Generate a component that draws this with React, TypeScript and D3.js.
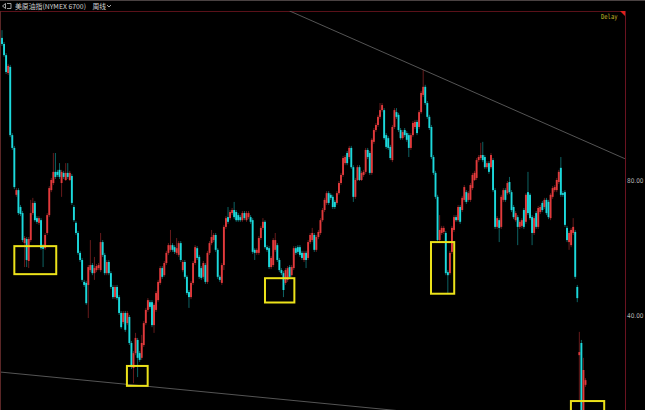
import React from "react";
import * as d3 from "d3";

// Weekly OHLC of the crude oil index (price units)
const opens = [
  122.4, 120.6, 117.3, 112.0, 113.8, 93.6, 89.8, 75.9, 77.3, 72.3,
  70.5, 61.6, 62.8, 56.3, 62.5, 70.5, 73.5, 69.0, 67.6, 68.4,
  60.7, 60.1, 64.6, 69.9, 77.3, 79.4, 82.7, 82.7, 83.3, 79.4,
  82.4, 80.3, 82.4, 80.3, 81.5, 72.3, 67.6, 64.6, 58.7, 56.6,
  50.1, 49.8, 49.2, 53.6, 55.1, 52.7, 53.6, 54.2, 53.6, 61.9,
  58.1, 52.7, 56.0, 52.7, 48.6, 45.6, 48.6, 45.6, 40.9, 38.2,
  40.9, 37.9, 39.7, 32.0, 24.6, 29.0, 32.9, 29.0, 27.6, 31.4,
  37.9, 41.8, 44.1, 44.1, 37.3, 41.8, 44.7, 49.8, 54.2, 52.1,
  55.7, 58.7, 59.6, 61.0, 60.4, 58.7, 58.1, 61.6, 53.6, 56.0,
  51.6, 47.1, 45.6, 49.8, 55.7, 60.1, 57.5, 54.2, 51.6, 55.1,
  50.1, 58.7, 61.6, 62.5, 64.0, 59.6, 51.6, 49.8, 55.1, 66.4,
  69.3, 69.0, 70.5, 71.4, 70.8, 69.9, 69.3, 68.4, 70.5, 68.4,
  69.3, 69.3, 68.4, 59.6, 58.7, 58.7, 63.1, 66.1, 67.9, 60.4,
  60.1, 54.5, 55.1, 59.6, 61.0, 56.6, 53.6, 52.7, 49.8, 50.7,
  54.5, 52.1, 54.2, 60.1, 60.4, 60.4, 58.7, 56.6, 58.7, 57.2,
  61.9, 62.5, 64.0, 59.6, 63.4, 64.6, 68.4, 71.4, 73.5, 76.4,
  75.9, 75.3, 73.8, 73.5, 76.4, 79.4, 81.8, 85.3, 88.3, 87.1,
  89.8, 84.1, 75.3, 80.3, 84.1, 80.3, 81.8, 82.7, 89.2, 88.3,
  82.4, 91.6, 95.1, 96.6, 99.0, 101.0, 101.0, 93.6, 92.7, 90.1,
  86.2, 96.0, 100.4, 99.6, 95.1, 92.7, 95.1, 94.2, 93.6, 89.8,
  93.6, 96.0, 97.5, 96.0, 100.4, 105.5, 107.9, 103.1, 99.0, 96.0,
  87.1, 82.4, 75.3, 62.5, 64.6, 64.9, 64.6, 53.0, 52.7, 59.0,
  65.5, 69.3, 68.4, 72.3, 71.4, 74.4, 76.7, 74.4, 74.4, 77.9,
  80.3, 80.9, 86.2, 86.8, 87.7, 87.1, 84.1, 85.3, 84.1, 86.2,
  77.3, 66.4, 68.4, 66.4, 74.4, 77.3, 76.4, 79.7, 76.7, 72.3,
  68.4, 69.3, 66.4, 66.7, 71.4, 67.9, 76.7, 75.9, 69.3, 64.6,
  70.5, 66.4, 70.8, 73.5, 72.3, 74.4, 73.8, 69.0, 75.3, 77.3,
  77.3, 79.7, 83.9, 76.4, 76.7, 66.1, 61.9, 61.0, 64.6, 64.9,
  48.6, 28.4, 32.0, 9.2, 19.6,
];

const closes = [
  120.6, 117.3, 112.3, 114.1, 93.6, 89.8, 78.2, 77.3, 70.5, 70.2,
  62.5, 63.1, 56.6, 62.8, 70.5, 73.5, 68.4, 67.9, 69.0, 60.1,
  59.9, 64.0, 69.9, 77.9, 80.3, 82.7, 81.2, 81.8, 81.2, 82.7,
  81.2, 82.4, 81.2, 82.4, 73.5, 68.4, 64.6, 58.7, 56.6, 50.7,
  49.2, 43.8, 54.5, 55.1, 52.7, 54.2, 54.8, 55.1, 61.9, 58.1,
  52.7, 56.0, 52.7, 48.6, 45.6, 48.6, 45.3, 40.9, 36.7, 40.9,
  35.9, 40.9, 32.0, 24.9, 29.0, 33.5, 27.6, 27.0, 32.0, 37.9,
  41.8, 44.7, 42.7, 37.3, 43.3, 46.8, 50.1, 54.2, 51.6, 55.7,
  58.7, 61.0, 61.0, 59.6, 59.0, 60.1, 61.6, 56.6, 56.0, 51.6,
  46.8, 45.6, 49.8, 55.7, 60.4, 57.2, 51.6, 51.3, 55.7, 50.1,
  58.7, 61.6, 63.4, 64.0, 59.6, 51.6, 50.7, 55.1, 66.4, 69.0,
  67.9, 70.8, 71.4, 69.3, 68.4, 68.4, 68.4, 70.5, 69.0, 70.5,
  70.5, 67.9, 59.0, 58.7, 59.6, 63.1, 66.1, 67.9, 60.4, 59.6,
  54.5, 57.2, 62.5, 62.5, 56.6, 53.6, 52.7, 47.7, 53.6, 54.2,
  51.6, 54.5, 60.1, 58.7, 59.0, 58.1, 57.2, 58.7, 56.6, 61.9,
  64.0, 64.6, 59.6, 63.4, 64.9, 68.4, 71.4, 74.4, 76.4, 73.5,
  75.0, 72.3, 72.3, 76.4, 79.4, 81.8, 86.8, 87.1, 85.3, 89.8,
  84.1, 75.3, 80.3, 84.1, 80.3, 82.4, 82.7, 89.2, 87.1, 82.4,
  92.2, 95.1, 96.6, 99.0, 101.0, 102.5, 92.7, 90.1, 89.8, 86.8,
  96.0, 101.0, 99.0, 95.1, 92.7, 94.5, 93.6, 92.2, 89.8, 93.6,
  97.2, 97.5, 94.2, 100.4, 106.1, 107.9, 103.1, 99.0, 95.7, 87.1,
  82.4, 75.3, 62.5, 65.5, 66.1, 66.1, 52.7, 52.1, 58.7, 66.1,
  69.3, 68.4, 72.3, 67.9, 75.0, 78.2, 73.8, 76.4, 78.8, 81.8,
  82.4, 86.2, 87.1, 87.7, 86.2, 84.1, 85.3, 82.7, 87.7, 77.3,
  66.4, 69.0, 66.1, 75.3, 77.3, 74.4, 79.4, 76.7, 71.4, 69.3,
  70.5, 66.4, 67.9, 68.4, 66.4, 75.9, 70.5, 69.0, 64.6, 69.0,
  66.4, 72.0, 72.3, 71.4, 74.4, 70.5, 69.3, 75.9, 77.9, 78.2,
  80.3, 82.7, 75.9, 75.9, 67.0, 62.5, 64.6, 65.5, 66.4, 51.6,
  45.3, 29.3, 9.2, 24.0, 21.0,
];

const highs = [
  124.7, 121.2, 117.9, 114.7, 114.4, 94.2, 90.4, 77.9, 77.9, 72.9,
  71.1, 63.7, 63.4, 63.4, 74.4, 75.0, 74.1, 69.6, 69.6, 69.0,
  61.3, 64.6, 70.5, 78.5, 80.9, 88.3, 88.3, 83.3, 85.3, 83.3,
  83.0, 85.3, 85.3, 83.0, 82.1, 72.9, 68.1, 65.2, 59.3, 57.2,
  50.7, 50.4, 55.1, 62.5, 55.7, 57.5, 55.4, 55.7, 64.6, 62.5,
  58.7, 56.6, 56.6, 53.3, 49.2, 49.2, 49.2, 46.2, 41.5, 41.5,
  41.5, 41.5, 40.3, 32.6, 29.6, 35.0, 33.5, 29.6, 34.4, 38.5,
  42.4, 45.3, 44.7, 44.7, 43.8, 47.4, 50.7, 54.8, 54.8, 56.3,
  59.3, 61.6, 65.5, 61.6, 61.0, 63.1, 62.2, 62.2, 56.6, 56.6,
  52.1, 47.7, 50.4, 56.3, 61.0, 60.7, 58.1, 54.8, 56.3, 55.7,
  59.3, 62.2, 65.5, 64.6, 64.6, 60.1, 52.1, 55.7, 67.0, 69.6,
  72.3, 71.4, 72.0, 73.8, 71.4, 70.5, 69.9, 71.1, 71.1, 71.1,
  71.1, 69.9, 69.0, 60.1, 60.1, 63.7, 66.7, 69.0, 68.4, 61.0,
  60.7, 57.8, 63.1, 64.6, 61.6, 57.2, 54.2, 53.3, 54.2, 54.8,
  55.1, 55.1, 60.7, 60.7, 61.0, 61.0, 59.3, 59.3, 59.3, 62.5,
  64.6, 66.1, 64.6, 64.0, 65.5, 69.0, 72.0, 75.0, 77.0, 77.0,
  76.4, 75.9, 74.4, 77.0, 80.0, 82.4, 87.4, 87.7, 88.9, 90.4,
  90.4, 84.7, 80.9, 84.7, 84.7, 83.0, 83.3, 89.8, 89.8, 88.9,
  92.7, 95.7, 97.2, 99.6, 103.1, 103.1, 101.6, 94.2, 93.3, 90.7,
  96.6, 101.6, 101.6, 100.2, 95.7, 95.1, 95.7, 94.8, 94.2, 94.2,
  97.8, 98.1, 98.1, 101.0, 106.7, 112.9, 108.5, 103.7, 99.6, 96.6,
  87.7, 83.0, 75.9, 69.9, 66.7, 66.7, 65.2, 53.6, 59.3, 66.7,
  69.9, 69.9, 72.9, 72.9, 75.6, 78.8, 77.3, 77.0, 79.4, 82.4,
  83.0, 86.8, 87.7, 91.3, 91.6, 87.7, 85.9, 85.9, 88.3, 86.8,
  77.9, 69.6, 69.0, 75.9, 77.9, 77.9, 80.0, 81.2, 77.3, 72.9,
  71.1, 69.9, 68.4, 69.0, 72.0, 76.4, 82.7, 76.4, 69.9, 69.6,
  71.1, 72.6, 72.9, 74.1, 75.0, 75.0, 74.4, 76.4, 78.5, 78.8,
  80.9, 83.3, 87.1, 77.0, 77.3, 66.7, 65.2, 66.1, 69.0, 65.5,
  49.2, 35.3, 32.9, 27.6, 21.6,
];

const lows = [
  120.0, 116.8, 111.7, 111.4, 93.0, 89.2, 77.6, 75.3, 69.9, 69.6,
  61.9, 54.5, 54.5, 54.2, 61.9, 69.9, 67.9, 67.3, 67.0, 59.6,
  54.5, 59.6, 64.0, 69.3, 76.7, 78.8, 80.6, 81.2, 80.6, 75.3,
  80.6, 80.0, 80.6, 80.0, 72.9, 67.9, 64.0, 58.1, 56.0, 50.1,
  48.6, 43.3, 39.4, 53.0, 52.1, 50.7, 53.0, 53.6, 53.0, 57.5,
  52.1, 52.1, 52.1, 48.0, 45.0, 45.0, 44.7, 40.3, 36.2, 37.6,
  35.3, 37.3, 31.4, 24.3, 20.1, 28.4, 21.9, 26.4, 27.0, 30.8,
  37.3, 41.2, 42.1, 36.7, 35.0, 41.2, 44.1, 49.2, 51.0, 51.6,
  55.1, 58.1, 59.0, 59.0, 58.4, 58.1, 57.5, 56.0, 53.0, 51.0,
  46.2, 42.4, 45.0, 49.2, 55.1, 56.6, 51.0, 50.7, 51.0, 49.5,
  49.5, 58.1, 61.0, 61.9, 59.0, 51.0, 50.1, 49.2, 53.6, 65.8,
  67.3, 68.4, 69.9, 68.7, 67.9, 67.9, 67.9, 67.9, 68.4, 67.9,
  68.7, 67.3, 58.4, 56.6, 58.1, 58.1, 62.5, 65.5, 59.9, 59.0,
  53.9, 53.9, 54.5, 59.0, 56.0, 53.0, 52.1, 45.6, 49.2, 50.1,
  51.0, 51.6, 53.6, 58.1, 58.4, 57.5, 56.6, 56.0, 54.2, 56.6,
  61.3, 61.9, 59.0, 59.0, 62.8, 64.0, 67.9, 70.8, 72.9, 72.9,
  74.4, 71.7, 71.7, 72.9, 75.9, 78.8, 81.2, 84.7, 84.7, 86.5,
  83.6, 73.8, 74.7, 80.0, 80.0, 80.0, 81.2, 82.1, 86.5, 81.8,
  81.8, 91.0, 94.5, 96.0, 98.4, 100.4, 92.2, 89.5, 89.2, 86.2,
  85.6, 95.4, 98.4, 94.5, 92.2, 92.2, 93.0, 91.6, 87.1, 89.2,
  93.0, 95.4, 93.6, 95.4, 99.9, 104.9, 102.5, 98.4, 95.1, 86.5,
  81.8, 74.7, 61.9, 61.9, 64.0, 64.3, 52.1, 46.8, 52.1, 58.4,
  64.9, 67.9, 67.9, 67.3, 70.8, 73.8, 73.2, 73.8, 73.8, 77.3,
  80.0, 80.3, 85.6, 86.2, 85.6, 83.6, 83.6, 82.1, 83.6, 76.7,
  65.8, 65.8, 61.9, 65.8, 73.8, 73.8, 75.9, 76.1, 70.8, 68.7,
  67.9, 61.0, 65.8, 66.1, 65.8, 67.3, 69.9, 68.4, 61.0, 64.0,
  65.8, 65.8, 70.2, 70.8, 71.7, 69.9, 68.7, 68.4, 74.7, 76.7,
  76.7, 79.1, 75.3, 75.3, 66.4, 61.9, 59.6, 60.4, 64.0, 51.0,
  44.1, 15.1, 8.6, 8.6, 19.0,
];

const yTickValues = [80, 40];
const titleText = "美原油指(NYMEX 6700)";
const periodText = "周线";
const delayText = "Delay";

// highlight boxes in data units (candle index range, price range)
const boxFrom = [6.0, 60.8, 128.0, 208.8, 276.9];
const boxTo = [26.4, 70.9, 142.3, 220.1, 293.1];
const boxTop = [60.7, 25.2, 51.2, 61.9, 14.8];
const boxBottom = [52.4, 19.3, 44.0, 46.6, 5.0];

// trend lines in data units (candle index, price)
const upperLineIdx = [139.9, 303.2];
const upperLinePx = [130.4, 86.6];
const lowerLineIdx = [-0.97, 193.7];
const lowerLinePx = [23.4, 11.9];

export default function App() {
  const W = 645;
  const H = 410;
  const N = Math.min(opens.length, closes.length, highs.length, lows.length);
  const plotTop = 11;
  const axisX = 625;

  const x = d3.scaleLinear().domain([0, N - 1]).range([2, 585.5]);
  const y = d3.scaleLinear().domain([40, 80]).range([316, 181]);
  const bw = 1.9;
  const upColor = "#e23a3c";
  const downColor = "#1cd9dc";

  const candles = d3.range(N).map((i) => {
    const o = opens[i];
    const c = closes[i];
    const isUp = c >= o;
    const col = isUp ? upColor : downColor;
    const yTop = y(Math.max(o, c));
    const yBot = y(Math.min(o, c));
    const cx = x(i);
    return (
      <g key={i}>
        <line
          x1={cx}
          x2={cx}
          y1={y(highs[i])}
          y2={y(lows[i])}
          stroke={col}
          strokeOpacity={0.5}
          strokeWidth={0.9}
        />
        <rect
          x={cx - bw / 2}
          y={yTop}
          width={bw}
          height={Math.max(1, yBot - yTop)}
          fill={col}
        />
      </g>
    );
  });

  const line = d3
    .line<[number, number]>()
    .x((d) => x(d[0]))
    .y((d) => y(d[1]));

  const upperPath = line(
    upperLineIdx.map((v, k) => [v, upperLinePx[k]] as [number, number])
  );
  const lowerPath = line(
    lowerLineIdx.map((v, k) => [v, lowerLinePx[k]] as [number, number])
  );

  const sans = "'Noto Sans CJK SC', 'DejaVu Sans', sans-serif";

  return (
    <svg
      width={W}
      height={H}
      style={{ position: "absolute", left: 0, top: 0, display: "block" }}
    >
      <defs>
        <clipPath id="plotClip">
          <rect x={0} y={plotTop} width={axisX} height={H - plotTop} />
        </clipPath>
      </defs>
      <rect x={0} y={0} width={W} height={H} fill="#000" />

      {/* header */}
      <line x1={0} x2={W} y1={0.5} y2={0.5} stroke="#4a4242" strokeWidth={1} />
      <line x1={0} x2={axisX} y1={plotTop + 0.5} y2={plotTop + 0.5} stroke="#5a1119" strokeWidth={1} />
      <path
        d="M2.5,6 L5.5,3.5 L5.5,8.5 Z M7,3.5 H11 V8.5 H7"
        fill="none"
        stroke="#c8c8c8"
        strokeWidth={0.8}
      />
      <text x={15} y={8.8} fontSize={6.8} fill="#d2d2d2" fontFamily={sans}
        textLength={71} lengthAdjust="spacingAndGlyphs">
        {titleText}
      </text>
      <text x={92.5} y={8.8} fontSize={6.8} fill="#d2d2d2" fontFamily={sans}>
        {periodText}
      </text>
      <path d="M107,5 L109,7 L111,5" fill="none" stroke="#d2d2d2" strokeWidth={0.8} />

      {/* plot */}
      <g clipPath="url(#plotClip)">
        {candles}
        <path d={upperPath || ""} fill="none" stroke="#6a6a6a" strokeWidth={0.8} />
        <path d={lowerPath || ""} fill="none" stroke="#6a6a6a" strokeWidth={0.8} />
      </g>

      {/* highlight boxes */}
      {boxFrom.map((b, k) => (
        <rect
          key={k}
          x={x(b)}
          y={y(boxTop[k])}
          width={x(boxTo[k]) - x(b)}
          height={y(boxBottom[k]) - y(boxTop[k])}
          fill="none"
          stroke="#ece21a"
          strokeWidth={2}
        />
      ))}

      {/* borders */}
      <line x1={0.5} x2={0.5} y1={plotTop} y2={H} stroke="#5a2626" strokeWidth={1} />
      <line x1={axisX + 0.5} x2={axisX + 0.5} y1={plotTop} y2={H} stroke="#6a1320" strokeWidth={1} />
      <path
        d={`M${axisX - 5},${plotTop} L${axisX},${plotTop} L${axisX},${plotTop + 5} Z`}
        fill="#e0201c"
      />
      <text x={601} y={18.5} fontSize={6.8} fill="#c4ba26" fontFamily="'DejaVu Sans Mono', monospace"
        textLength={16.5} lengthAdjust="spacingAndGlyphs">
        {delayText}
      </text>

      {/* y axis labels */}
      {yTickValues.map((t) => (
        <text
          key={t}
          x={627}
          y={y(t)}
          dy="0.35em"
          fontSize={6.5}
          fill="#b4b4b4"
          fontFamily="'DejaVu Sans', sans-serif"
          textLength={16.5}
          lengthAdjust="spacingAndGlyphs"
        >
          {t.toFixed(2)}
        </text>
      ))}
    </svg>
  );
}
